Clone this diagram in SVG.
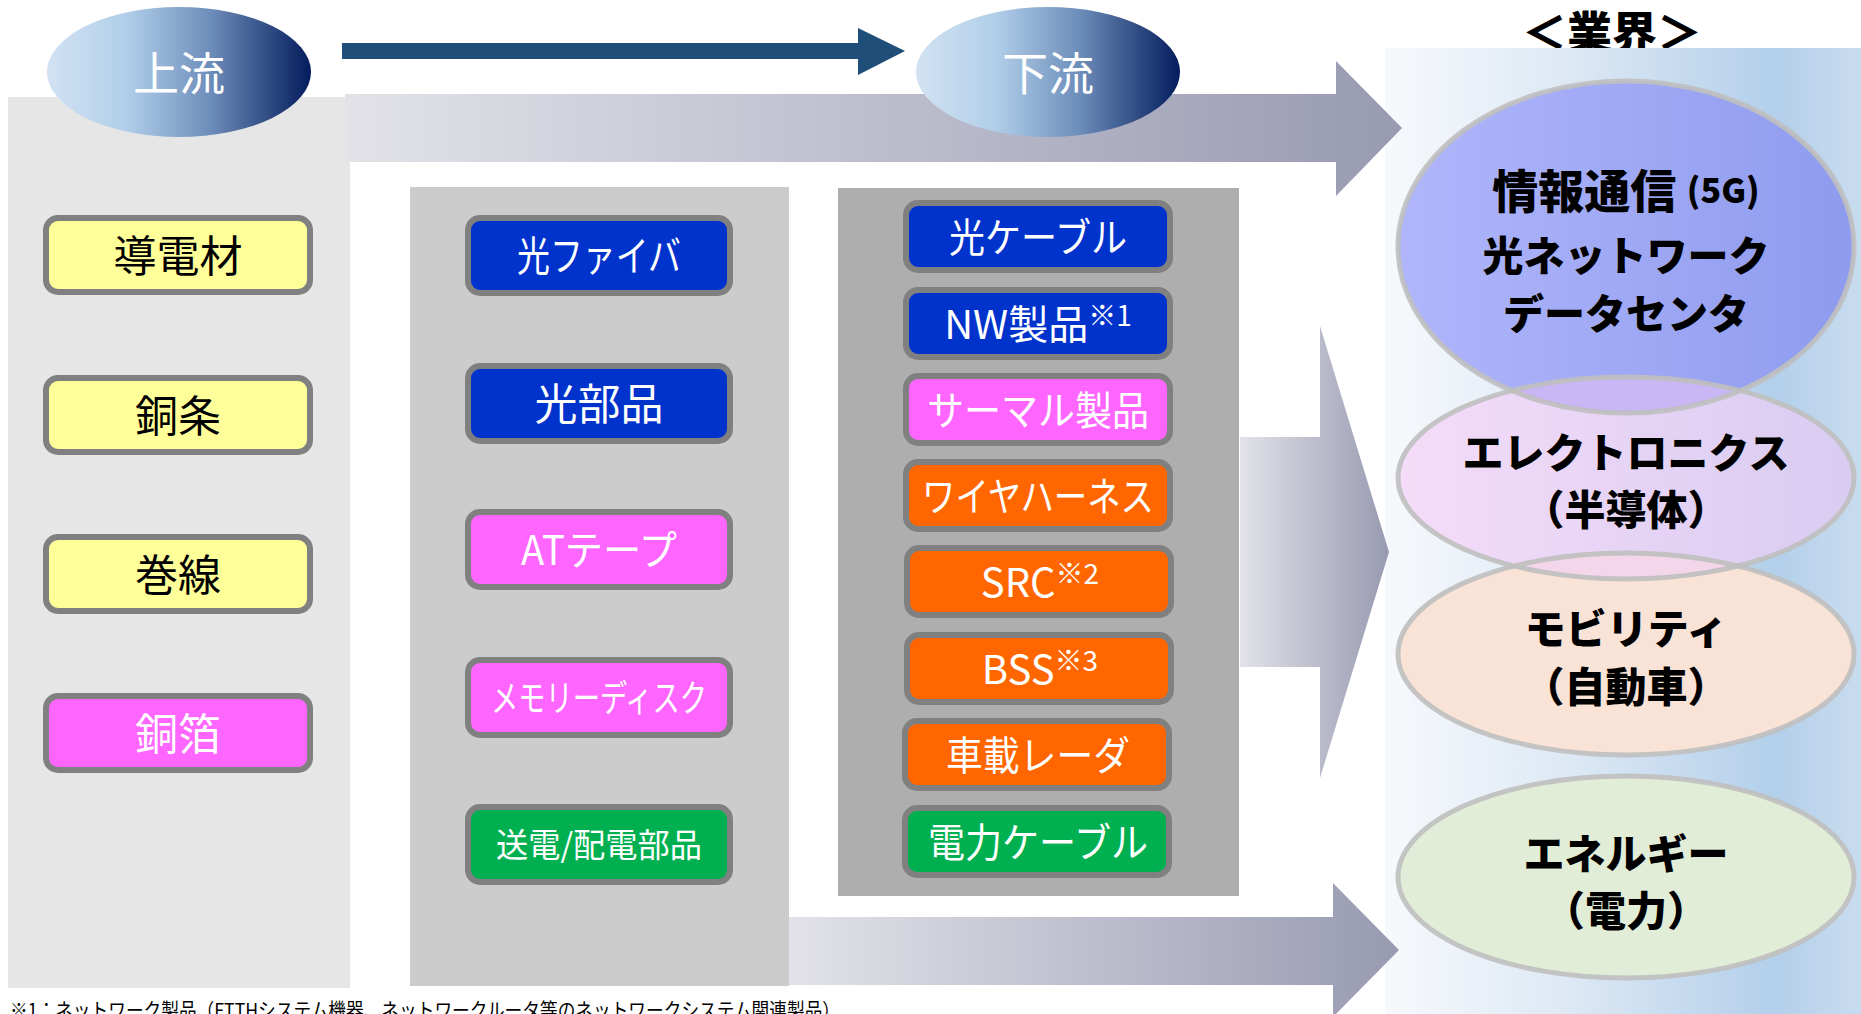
<svg xmlns="http://www.w3.org/2000/svg" width="1861" height="1014" viewBox="0 0 1861 1014">
<defs>
<linearGradient id="gEll" x1="0" y1="0" x2="1" y2="0">
<stop offset="0" stop-color="#d2e2f3"/>
<stop offset="0.3" stop-color="#b1cfe9"/>
<stop offset="0.62" stop-color="#6d8dba"/>
<stop offset="1" stop-color="#041c5c"/>
</linearGradient>
<linearGradient id="gBand" x1="0" y1="0" x2="1" y2="0">
<stop offset="0" stop-color="#e2e2e8"/>
<stop offset="1" stop-color="#989ab2"/>
</linearGradient>
<linearGradient id="gPanel" x1="0" y1="0" x2="1" y2="0">
<stop offset="0" stop-color="#f7f9fc"/>
<stop offset="0.4" stop-color="#dce8f4"/>
<stop offset="0.82" stop-color="#b3cfea"/>
<stop offset="1" stop-color="#c9dcef"/>
</linearGradient>
<linearGradient id="gE1" x1="0" y1="0" x2="1" y2="0">
<stop offset="0" stop-color="#b0b6fb"/>
<stop offset="1" stop-color="#8e9bee"/>
</linearGradient>
<linearGradient id="gE2" x1="0" y1="0" x2="1" y2="0">
<stop offset="0" stop-color="#f5dcf9"/>
<stop offset="1" stop-color="#d8ccf1"/>
</linearGradient>
<clipPath id="cE1"><ellipse cx="1626" cy="247" rx="228" ry="166"/></clipPath>
<clipPath id="cE2"><ellipse cx="1626" cy="478" rx="228" ry="101"/></clipPath>
</defs>
<style>
.box{stroke:#808080;stroke-width:6}
.t{font-family:"Noto Sans CJK JP","Noto Sans",sans-serif;text-anchor:middle;dominant-baseline:central}
.w{fill:#ffffff}
.k{fill:#000000}
.b{font-weight:900}
.yel{fill:#ffff99}
.pink{fill:#ff66ff}
.blue{fill:#0033cc}
.org{fill:#ff6600}
.grn{fill:#00b050}
.band{fill:url(#gBand)}
.ol{fill:none;stroke:#bfbfbf;stroke-width:5;stroke-opacity:0.9}
</style>

<g id="panels">
<rect x="8" y="97" width="342" height="891" fill="#e6e6e6"/>
<rect x="410" y="187" width="379" height="799" fill="#cccccc"/>
<rect x="838" y="188" width="401" height="708" fill="#aeaeae"/>
<text class="t b k" x="1612" y="50" font-size="45" style="dominant-baseline:auto">＜業界＞</text>
<rect x="1385" y="48" width="476" height="966" fill="url(#gPanel)"/>
</g>

<g id="connectors">
<polygon class="band" points="345,94 1336,94 1336,61 1402,128 1336,196 1336,162 345,162"/>
<polygon class="band" points="789,917 1333,917 1333,883 1399,950 1333,1017 1333,985 789,985"/>
<polygon class="band" points="1240,437 1320,437 1320,326 1389,552 1320,778 1320,667 1240,667"/>
<polygon fill="#1f4e79" points="342,43 858,43 858,28 905,51 858,75 858,59 342,59"/>
</g>

<g id="upstream">
<ellipse cx="179" cy="72" rx="132" ry="65" fill="url(#gEll)"/>
<text class="t w" x="179" y="70" font-size="46">上流</text>
</g>
<g id="downstream">
<ellipse cx="1048" cy="72" rx="132" ry="65" fill="url(#gEll)"/>
<text class="t w" x="1048" y="70" font-size="46">下流</text>
</g>

<g id="n-doudenzai"><rect class="box yel" x="46" y="218" width="264" height="74" rx="12"/><text class="t k" x="178" y="253" font-size="43">導電材</text></g>
<g id="n-doujou"><rect class="box yel" x="46" y="378" width="264" height="74" rx="12"/><text class="t k" x="178" y="413" font-size="43">銅条</text></g>
<g id="n-kansen"><rect class="box yel" x="46" y="537" width="264" height="74" rx="12"/><text class="t k" x="178" y="572" font-size="43">巻線</text></g>
<g id="n-douhaku"><rect class="box pink" x="46" y="696" width="264" height="74" rx="12"/><text class="t w" x="178" y="731" font-size="43">銅箔</text></g>

<g id="n-fiber"><rect class="box blue" x="468" y="218" width="262" height="75" rx="12"/><text class="t w" x="599" y="253" font-size="41" textLength="164" lengthAdjust="spacingAndGlyphs">光ファイバ</text></g>
<g id="n-hikaribuhin"><rect class="box blue" x="468" y="366" width="262" height="75" rx="12"/><text class="t w" x="599" y="401" font-size="43">光部品</text></g>
<g id="n-attape"><rect class="box pink" x="468" y="512" width="262" height="75" rx="12"/><text class="t w" x="599" y="547" font-size="41" textLength="156" lengthAdjust="spacingAndGlyphs">ATテープ</text></g>
<g id="n-memory"><rect class="box pink" x="468" y="660" width="262" height="75" rx="12"/><text class="t w" x="599" y="696" font-size="37" textLength="216" lengthAdjust="spacingAndGlyphs">メモリーディスク</text></g>
<g id="n-souden"><rect class="box grn" x="468" y="807" width="262" height="75" rx="12"/><text class="t w" x="599" y="843" font-size="33" textLength="206" lengthAdjust="spacingAndGlyphs">送電/配電部品</text></g>

<g id="n-cable"><rect class="box blue" x="906" y="203" width="264" height="67" rx="12"/><text class="t w" x="1038" y="235" font-size="40" textLength="178" lengthAdjust="spacingAndGlyphs">光ケーブル</text></g>
<g id="n-nw"><rect class="box blue" x="906" y="290" width="264" height="67" rx="12"/><text class="t w" x="1038" y="322" font-size="40">NW製品<tspan font-size="28" dy="-8">※1</tspan></text></g>
<g id="n-thermal"><rect class="box pink" x="906" y="376" width="264" height="67" rx="12"/><text class="t w" x="1038" y="408" font-size="40" textLength="222" lengthAdjust="spacingAndGlyphs">サーマル製品</text></g>
<g id="n-harness"><rect class="box org" x="906" y="462" width="264" height="67" rx="12"/><text class="t w" x="1038" y="494" font-size="40" textLength="232" lengthAdjust="spacingAndGlyphs">ワイヤハーネス</text></g>
<g id="n-src"><rect class="box org" x="907" y="548" width="264" height="67" rx="12"/><text class="t w" x="1040" y="580" font-size="40">SRC<tspan font-size="28" dy="-8">※2</tspan></text></g>
<g id="n-bss"><rect class="box org" x="907" y="635" width="264" height="67" rx="12"/><text class="t w" x="1040" y="667" font-size="40">BSS<tspan font-size="28" dy="-8">※3</tspan></text></g>
<g id="n-radar"><rect class="box org" x="905" y="721" width="264" height="67" rx="12"/><text class="t w" x="1038" y="753" font-size="40" textLength="184" lengthAdjust="spacingAndGlyphs">車載レーダ</text></g>
<g id="n-powercable"><rect class="box grn" x="905" y="808" width="264" height="67" rx="12"/><text class="t w" x="1038" y="840" font-size="40" textLength="220" lengthAdjust="spacingAndGlyphs">電力ケーブル</text></g>

<g id="ind-ict">
<ellipse cx="1626" cy="247" rx="228" ry="166" fill="url(#gE1)"/>
</g>
<g id="ind-electronics">
<ellipse cx="1626" cy="478" rx="228" ry="101" fill="url(#gE2)"/>
</g>
<g id="ind-mobility">
<ellipse cx="1626" cy="654" rx="228" ry="101" fill="#f9e3d7"/>
</g>
<g id="ind-energy">
<ellipse cx="1626" cy="877" rx="228" ry="101" fill="#e2edd8"/>
</g>
<g id="overlaps">
<ellipse cx="1626" cy="478" rx="228" ry="101" fill="#c9b6f5" clip-path="url(#cE1)"/>
<ellipse cx="1626" cy="654" rx="228" ry="101" fill="#f4d6eb" clip-path="url(#cE2)"/>
</g>
<g id="ind-outlines">
<ellipse class="ol" cx="1626" cy="247" rx="228" ry="166"/>
<ellipse class="ol" cx="1626" cy="478" rx="228" ry="101"/>
<ellipse class="ol" cx="1626" cy="654" rx="228" ry="101"/>
<ellipse class="ol" cx="1626" cy="877" rx="228" ry="101"/>
</g>
<g id="ind-labels">
<text class="t b k" x="1626" y="188" font-size="46">情報通信 <tspan font-size="34">(5G)</tspan></text>
<text class="t b k" x="1626" y="253" font-size="41">光ネットワーク</text>
<text class="t b k" x="1626" y="311" font-size="41">データセンタ</text>
<text class="t b k" x="1626" y="450" font-size="41">エレクトロニクス</text>
<text class="t b k" x="1626" y="507" font-size="41">（半導体）</text>
<text class="t b k" x="1626" y="626" font-size="41">モビリティ</text>
<text class="t b k" x="1626" y="684" font-size="41">（自動車）</text>
<text class="t b k" x="1626" y="851" font-size="41">エネルギー</text>
<text class="t b k" x="1626" y="908" font-size="41">（電力）</text>
</g>

<g id="footnote">
<text x="10" y="1018" font-size="20" fill="#000" font-family="'Noto Sans CJK JP','Noto Sans',sans-serif" textLength="830" lengthAdjust="spacingAndGlyphs">※1：ネットワーク製品（FTTHシステム機器、ネットワークルータ等のネットワークシステム関連製品）</text>
</g>
</svg>
